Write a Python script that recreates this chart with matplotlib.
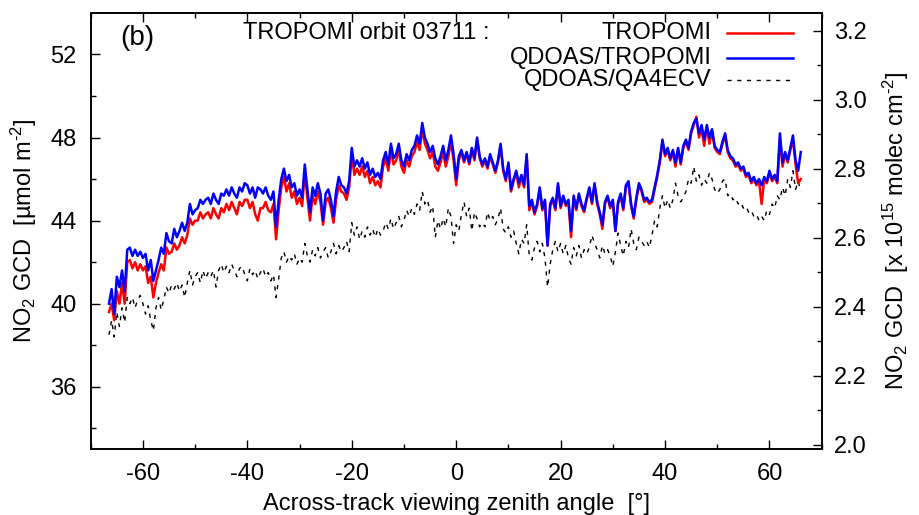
import numpy as np
import matplotlib
matplotlib.use("Agg")
import matplotlib.pyplot as plt
from matplotlib.lines import Line2D

plt.rcParams['font.family'] = ['Liberation Sans', 'DejaVu Sans']
plt.rcParams['mathtext.fontset'] = 'custom'
plt.rcParams['mathtext.rm'] = 'Liberation Sans'
plt.rcParams['mathtext.it'] = 'Liberation Sans:italic'
plt.rcParams['mathtext.bf'] = 'Liberation Sans:bold'
plt.rcParams['axes.unicode_minus'] = False

# viewing zenith angle grid (deg), -66.5 ... 66.0 every 0.5
vza = np.arange(-66.5, 66.01, 0.5)

tropomi = [
    39.6, 40.0, 39.2, 40.6, 40.0, 41.0, 40.0, 42.0, 42.1, 41.7,
    42.0, 41.6, 41.9, 41.6, 41.8, 41.0, 41.3, 40.3, 41.0, 41.5,
    41.9, 41.6, 42.7, 42.4, 42.5, 42.9, 42.6, 42.8, 43.2, 42.9,
    43.3, 44.1, 43.8, 44.0, 44.0, 44.4, 44.1, 44.3, 44.4, 44.1,
    44.6, 44.3, 44.1, 44.6, 44.4, 44.8, 44.5, 44.9, 44.6, 44.3,
    44.9, 44.7, 45.0, 45.0, 44.6, 44.9, 44.3, 44.0, 44.6, 44.6,
    44.9, 44.5, 44.4, 44.8, 43.1, 44.5, 45.6, 46.1, 45.4, 45.8,
    45.1, 45.4, 44.8, 45.1, 44.7, 46.3, 45.1, 44.0, 45.2, 44.8,
    45.4, 44.9, 43.8, 44.9, 45.1, 44.6, 43.9, 45.0, 45.7, 45.4,
    45.3, 45.0, 45.6, 47.2, 46.2, 46.5, 46.2, 46.6, 46.1, 46.4,
    45.8, 46.1, 45.7, 45.9, 45.6, 46.6, 47.0, 46.4, 47.4, 46.7,
    46.9, 47.4, 46.6, 46.3, 46.9, 46.6, 47.1, 47.3, 47.8, 47.4,
    48.4, 47.7, 47.4, 47.0, 47.3, 46.6, 46.4, 46.8, 47.3, 46.6,
    47.1, 47.8, 46.9, 45.7, 46.9, 47.3, 46.8, 47.2, 46.7, 47.4,
    46.9, 47.9, 47.0, 46.6, 46.9, 46.5, 47.1, 46.7, 46.3, 46.8,
    47.6, 46.4, 45.9, 46.7, 45.4, 45.9, 46.3, 45.6, 46.1, 45.6,
    47.1, 44.5, 44.9, 44.3, 44.7, 45.5, 44.5, 44.9, 42.8, 44.7,
    45.0, 44.5, 45.7, 44.6, 45.1, 44.7, 44.9, 43.2, 45.1, 44.5,
    45.2, 44.7, 44.4, 45.0, 45.5, 44.8, 45.7, 44.8, 44.3, 43.6,
    44.8, 45.1, 44.6, 44.9, 43.5, 44.8, 45.2, 44.5, 45.6, 45.8,
    44.7, 44.1, 45.0, 45.7, 45.4, 44.9, 45.0, 44.8, 44.9, 45.5,
    46.1, 46.8, 47.8, 47.1, 47.4, 46.9, 47.3, 46.6, 47.4, 46.7,
    47.5, 47.8, 47.4, 48.2, 48.6, 49.0, 48.0, 48.4, 47.6, 48.5,
    47.7, 48.3, 47.5, 47.3, 47.2, 47.7, 48.1, 47.3, 47.0, 46.9,
    46.6, 46.7, 46.4, 46.5, 46.1, 46.2, 45.8, 46.0, 45.7, 45.9,
    44.8, 46.0, 45.8, 46.3, 45.9, 46.1, 45.8, 48.0, 46.6, 47.2,
    46.8, 47.4, 47.9, 46.7, 45.8, 46.0,
]

qdoas_tropomi = [
    40.0, 40.7, 39.5, 41.3, 40.8, 41.6, 40.6, 42.6, 42.7, 42.3,
    42.6, 42.3, 42.5, 42.2, 42.4, 41.6, 42.1, 41.1, 41.6, 42.1,
    42.7, 42.4, 43.4, 43.0, 42.9, 43.6, 43.2, 43.5, 43.9, 43.5,
    43.9, 44.8, 44.3, 44.5, 44.6, 45.0, 44.8, 45.0, 45.1, 44.8,
    45.3, 45.0, 44.8, 45.3, 45.2, 45.5, 45.2, 45.6, 45.3, 45.1,
    45.6, 45.4, 45.8, 45.7, 45.3, 45.6, 45.1, 45.6, 45.5, 45.3,
    45.6, 45.2, 45.0, 45.4, 43.7, 45.0, 46.0, 46.5, 45.9, 46.2,
    45.6, 45.8, 45.2, 45.5, 45.1, 46.7, 45.5, 44.4, 45.6, 45.2,
    45.8, 45.3, 44.0, 45.3, 45.5, 45.0, 44.2, 45.4, 46.1, 45.7,
    45.6, 45.3, 45.9, 47.5, 46.6, 46.9, 46.6, 47.0, 46.5, 46.8,
    46.2, 46.5, 46.1, 46.3, 46.0, 46.9, 47.3, 46.7, 47.7, 47.0,
    47.2, 47.7, 46.9, 46.6, 47.2, 46.9, 47.4, 47.6, 48.1, 47.7,
    48.7, 48.0, 47.7, 47.3, 47.6, 47.0, 46.7, 47.1, 47.6, 46.9,
    47.4, 48.1, 47.2, 46.0, 47.1, 47.4, 46.9, 47.3, 46.8, 47.5,
    47.0, 48.0, 47.1, 46.7, 47.0, 46.6, 47.2, 46.8, 46.4, 46.9,
    47.7, 46.5, 46.0, 46.8, 45.5, 46.0, 46.4, 45.8, 46.2, 45.7,
    47.2, 44.7, 45.0, 44.4, 44.8, 45.6, 44.6, 45.0, 42.8, 44.8,
    45.1, 44.6, 45.8, 44.7, 45.2, 44.8, 45.0, 43.5, 45.2, 44.6,
    45.3, 44.8, 44.5, 45.1, 45.6, 44.9, 45.8, 44.9, 44.4, 43.8,
    44.9, 45.2, 44.7, 45.0, 43.5, 44.9, 45.3, 44.6, 45.7, 45.9,
    44.8, 44.2, 45.1, 45.8, 45.5, 45.0, 45.1, 44.9, 45.0, 45.6,
    46.2, 46.9, 47.9, 47.2, 47.5, 47.0, 47.4, 46.8, 47.5, 46.8,
    47.6, 47.9, 47.5, 48.3, 48.7, 48.9, 48.2, 48.6, 47.9, 48.6,
    48.0, 48.4, 47.6, 47.4, 47.3, 47.8, 48.2, 47.4, 47.1, 47.0,
    46.7, 46.8, 46.5, 46.6, 46.2, 46.3, 45.9, 46.1, 45.8, 46.0,
    45.7, 46.1, 45.9, 46.4, 46.0, 46.2, 45.9, 48.2, 46.8, 47.3,
    46.9, 47.5, 48.1, 46.9, 46.4, 47.3,
]

qdoas_qa4ecv = [
    38.5, 39.2, 38.4, 39.6, 38.9, 39.8, 39.1, 40.3, 40.0, 40.3,
    39.8, 40.2, 40.4, 40.0, 39.5, 39.9, 39.2, 38.7, 39.8, 40.3,
    39.7, 40.2, 40.8, 40.5, 40.9, 40.7, 41.0, 40.6, 40.9, 40.3,
    41.0, 41.6, 40.9, 41.3, 41.5, 41.0, 41.6, 41.2, 41.5, 41.3,
    41.6, 40.8, 41.6, 41.9, 41.5, 41.8, 41.5, 41.9, 41.6, 41.3,
    41.7, 41.8, 41.4, 41.1, 41.7, 41.4, 41.6, 41.2, 41.5, 41.7,
    41.3, 41.5, 41.1, 41.4, 40.3, 41.2, 42.2, 42.5, 42.0, 42.3,
    42.1, 42.4, 41.9, 42.2, 42.0, 42.9, 42.3, 42.0, 42.6, 42.3,
    42.7, 42.2, 42.5, 42.7, 42.2, 42.5, 42.9, 42.4, 42.8, 42.5,
    42.7, 43.0, 42.5, 43.9, 43.3, 43.7, 43.1, 43.5, 43.2, 43.7,
    43.3, 43.6, 43.2, 43.6, 43.3, 43.5, 43.9, 43.6, 44.1, 43.6,
    43.9, 44.2, 43.7, 44.0, 44.5, 44.2, 44.6, 44.3, 44.8, 44.5,
    45.4, 44.8, 45.0, 44.4, 44.7, 43.2, 44.0, 43.6, 44.1, 43.7,
    44.6, 44.2, 42.9, 43.8, 43.5, 44.3, 44.9, 44.2, 44.6, 43.5,
    44.4, 44.1, 43.7, 43.9, 43.7, 44.4, 44.0, 44.2, 43.8, 44.1,
    44.6, 43.6, 43.4, 43.7, 43.2, 43.5, 42.9, 42.4, 43.1, 42.9,
    43.8, 42.3, 42.1, 42.7, 43.0, 42.5, 42.9, 42.2, 40.8, 41.9,
    42.6, 43.0, 42.5, 42.9, 42.4, 42.8, 42.2, 41.9, 42.7, 42.3,
    42.8, 42.2, 42.6, 42.4, 42.7, 43.3, 42.9, 42.6, 42.2, 42.8,
    42.4, 42.6, 42.3, 41.8, 42.5, 43.4, 42.8, 42.3, 43.0, 42.7,
    43.6, 42.9, 42.6, 43.2, 43.0, 42.8, 43.0, 42.7, 43.3, 44.0,
    43.7, 44.6, 45.2, 44.6, 45.0, 44.6, 45.0, 45.8, 45.2, 44.9,
    45.1, 45.4, 46.0, 45.8, 46.6, 45.9, 46.2, 45.7, 46.0, 45.8,
    46.3, 46.0, 45.5, 45.3, 45.5, 45.9, 46.0, 45.2, 45.3, 45.0,
    45.1, 44.8, 44.9, 44.6, 44.7, 44.4, 44.5, 44.2, 44.3, 44.0,
    44.2, 44.0, 44.5, 44.3, 44.8, 44.6, 45.2, 45.0, 45.6, 45.2,
    46.0, 45.6, 46.4, 45.5, 45.9, 45.4,
]

xticks = [-60, -40, -20, 0, 20, 40, 60]
yticks_left = [36, 40, 44, 48, 52]
yticks_right = [2.0, 2.2, 2.4, 2.6, 2.8, 3.0, 3.2]
conv = 0.06022  # umol/m2 -> 1e15 molec/cm2

FS = 17
fig = plt.figure(figsize=(9.19, 5.15), dpi=100)
ax = fig.add_axes([0.0987, 0.128, 0.7954, 0.847])

ax.plot(vza, tropomi, color='#ff0000', lw=1.8, zorder=3)
ax.plot(vza, qdoas_tropomi, color='#0000ff', lw=1.8, zorder=4)
ax.plot(vza, qdoas_qa4ecv, color='black', lw=1.0, ls=(0, (3, 4)), zorder=2)

ax.set_xlim(-70, 70)
ax.set_ylim(33, 54)
ax.set_xticks(xticks)
ax.set_xticks(np.arange(-70, 71, 10), minor=True)
ax.set_yticks(yticks_left)
ax.set_yticks(np.arange(34, 54, 4), minor=True)
ax.tick_params(axis='x', which='both', direction='in', top=True, bottom=True,
               labelsize=FS, pad=10)
ax.tick_params(axis='y', which='both', direction='in', left=True, right=False,
               labelsize=FS, pad=10)
ax.tick_params(which='major', length=6.5, width=1.0)
ax.tick_params(which='minor', length=3.8, width=1.0)
for s in ax.spines.values():
    s.set_linewidth(1.2)

ax.set_xlabel('Across-track viewing zenith angle  [°]', fontsize=FS, labelpad=6)
ax.set_ylabel(r'NO$_2$ GCD  [µmol m$^{\text{-}2}$]', fontsize=FS, labelpad=8)

ax2 = ax.twinx()
ax2.set_ylim(33 * conv, 54 * conv)
ax2.set_yticks(yticks_right)
ax2.set_yticklabels([f'{v:.1f}' for v in yticks_right])
ax2.set_yticks(np.arange(2.1, 3.25, 0.2), minor=True)
ax2.tick_params(axis='y', which='both', direction='in', labelsize=FS, pad=9)
ax2.tick_params(which='major', length=6.5, width=1.0)
ax2.tick_params(which='minor', length=3.8, width=1.0)
ax2.set_ylabel(r'NO$_2$ GCD  [x 10$^{15}$ molec cm$^{\text{-}2}$]', fontsize=FS, labelpad=10)
for s in ax2.spines.values():
    s.set_linewidth(1.2)

# annotations / legend (manual, gnuplot-like)
ax.text(0.040, 0.942, '(b)', transform=ax.transAxes, fontsize=20, va='center', ha='left')
ax.text(0.208, 0.955, 'TROPOMI orbit 03711 :', transform=ax.transAxes,
        fontsize=FS, va='center', ha='left')
labels = ['TROPOMI', 'QDOAS/TROPOMI', 'QDOAS/QA4ECV']
styles = [dict(color='#ff0000', lw=1.8), dict(color='#0000ff', lw=1.8),
          dict(color='black', lw=1.0, ls=(0, (3, 4)))]
rows = [0.955, 0.897, 0.845]
for lab, st, yy in zip(labels, styles, rows):
    ax.text(0.849, yy, lab, transform=ax.transAxes, fontsize=FS, va='center', ha='right')
    ax.add_line(Line2D([0.870, 0.961], [yy, yy], transform=ax.transAxes, **st))

fig.savefig('out.png', dpi=100)
